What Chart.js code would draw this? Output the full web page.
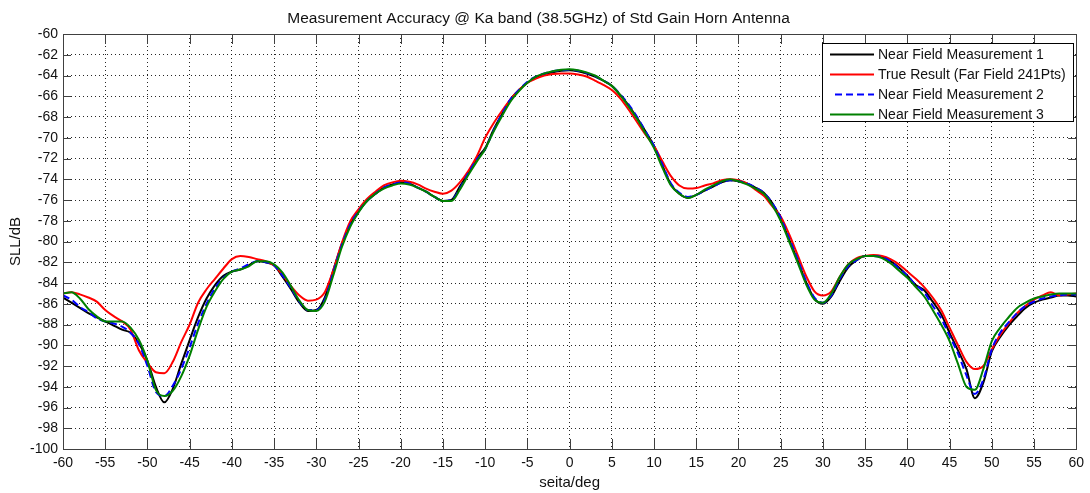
<!DOCTYPE html>
<html>
<head>
<meta charset="utf-8">
<script src="https://cdn.jsdelivr.net/npm/chart.js@4.4.1/dist/chart.umd.min.js"></script>
<style>
  html, body { margin: 0; padding: 0; background: #fff; }
  #wrap { width: 1090px; height: 493px; }
</style>
</head>
<body>
<div id="wrap"><canvas id="c" width="1090" height="493"></canvas></div>
<script>
const angles = [
  -60,-59,-58,-57,-56,-55,-54,-53,-52,-51,
  -50,-49,-48,-47,-46,-45,-44,-43,-42,-41,
  -40,-39,-38,-37,-36,-35,-34,-33,-32,-31,
  -30,-29,-28,-27,-26,-25,-24,-23,-22,-21,
  -20,-19,-18,-17,-16,-15,-14,-13,-12,-11,
  -10,-9,-8,-7,-6,-5,-4,-3,-2,-1,
  0,1,2,3,4,5,6,7,8,9,
  10,11,12,13,14,15,16,17,18,19,
  20,21,22,23,24,25,26,27,28,29,
  30,31,32,33,34,35,36,37,38,39,
  40,41,42,43,44,45,46,47,48,49,
  50,51,52,53,54,55,56,57,58,59,
  60
];

// Near Field Measurement 1 (black)
const nearField1 = [
  -85.4,-85.9,-86.4,-86.9,-87.3,-87.7,-88.1,-88.5,-88.8,-89.8,
  -91.5,-94.0,-95.5,-94.2,-91.8,-89.5,-87.3,-85.5,-84.2,-83.3,
  -82.9,-82.7,-82.3,-81.9,-82.0,-82.3,-83.4,-84.6,-85.9,-86.7,
  -86.6,-85.4,-82.8,-80.3,-78.4,-77.1,-76.1,-75.4,-74.8,-74.5,
  -74.3,-74.4,-74.8,-75.2,-75.7,-76.1,-76.0,-74.7,-73.4,-72.0,
  -71.0,-69.2,-67.7,-66.3,-65.4,-64.7,-64.2,-63.9,-63.7,-63.55,
  -63.5,-63.6,-63.8,-64.1,-64.5,-65.0,-65.9,-66.9,-68.1,-69.4,
  -70.8,-72.7,-74.5,-75.4,-75.8,-75.5,-75.1,-74.7,-74.3,-74.1,
  -74.2,-74.4,-74.8,-75.3,-76.3,-77.8,-79.8,-81.8,-83.9,-85.5,
  -86.0,-85.3,-83.8,-82.5,-81.8,-81.4,-81.4,-81.5,-81.9,-82.5,
  -83.3,-84.2,-84.7,-85.8,-87.0,-88.8,-90.5,-92.3,-95.1,-93.6,
  -90.6,-89.2,-88.1,-87.2,-86.4,-85.9,-85.6,-85.4,-85.2,-85.2,
  -85.3
];

// True Result (Far Field 241Pts) (red)
const farField = [
  -85.0,-84.9,-85.1,-85.4,-85.8,-86.6,-87.2,-87.7,-88.5,-90.5,
  -91.7,-92.6,-92.7,-91.6,-89.7,-88.0,-85.9,-84.6,-83.6,-82.6,
  -81.7,-81.4,-81.5,-81.7,-81.9,-82.3,-83.2,-84.3,-85.2,-85.7,
  -85.6,-84.9,-82.8,-80.2,-78.1,-76.9,-75.9,-75.2,-74.6,-74.3,
  -74.15,-74.25,-74.5,-74.9,-75.2,-75.4,-75.1,-74.3,-73.2,-71.8,
  -70.0,-68.6,-67.4,-66.3,-65.4,-64.7,-64.3,-64.0,-63.85,-63.8,
  -63.8,-63.9,-64.1,-64.5,-64.9,-65.4,-66.2,-67.3,-68.5,-69.7,
  -70.8,-72.3,-73.7,-74.6,-74.9,-74.85,-74.6,-74.4,-74.1,-74.0,
  -74.1,-74.4,-75.0,-75.6,-76.6,-77.6,-79.3,-81.3,-83.3,-84.8,
  -85.2,-84.8,-83.4,-82.2,-81.6,-81.4,-81.3,-81.4,-81.7,-82.2,
  -82.9,-83.6,-84.4,-85.4,-86.6,-88.3,-90.0,-91.6,-92.3,-92.0,
  -90.4,-89.0,-87.9,-86.9,-86.2,-85.6,-85.2,-84.9,-85.2,-85.1,
  -85.0
];

// Near Field Measurement 2 (blue dashed)
const nearField2 = [
  -85.2,-85.6,-86.3,-86.8,-87.4,-87.7,-87.9,-88.2,-88.8,-89.9,
  -92.0,-94.5,-94.9,-93.9,-92.3,-90.2,-87.9,-86.0,-84.5,-83.5,
  -82.9,-82.6,-82.2,-81.9,-82.0,-82.3,-83.3,-84.5,-85.8,-86.6,
  -86.6,-85.6,-83.0,-80.4,-78.4,-77.1,-76.1,-75.4,-74.8,-74.5,
  -74.3,-74.4,-74.8,-75.2,-75.7,-76.1,-76.0,-74.9,-73.4,-72.1,
  -71.1,-69.3,-67.7,-66.3,-65.4,-64.6,-64.1,-63.8,-63.6,-63.5,
  -63.45,-63.55,-63.75,-64.05,-64.5,-65.0,-65.8,-66.8,-68.0,-69.4,
  -70.8,-72.6,-74.4,-75.3,-75.7,-75.5,-75.1,-74.7,-74.3,-74.1,
  -74.2,-74.4,-74.8,-75.3,-76.3,-77.7,-79.7,-81.7,-83.8,-85.4,
  -85.9,-85.2,-83.6,-82.4,-81.8,-81.4,-81.4,-81.5,-81.9,-82.6,
  -83.3,-84.2,-84.9,-86.2,-87.4,-89.1,-90.8,-92.9,-94.7,-93.3,
  -90.4,-88.8,-87.8,-86.9,-86.2,-85.8,-85.5,-85.3,-85.2,-85.1,
  -85.1
];

// Near Field Measurement 3 (green)
const nearField3 = [
  -85.0,-84.9,-85.5,-86.5,-87.2,-87.7,-87.7,-87.7,-88.3,-89.5,
  -91.5,-94.3,-94.9,-94.4,-93.0,-91.0,-88.5,-86.3,-84.8,-83.6,
  -82.9,-82.7,-82.4,-81.9,-81.9,-82.2,-83.0,-84.3,-85.7,-86.6,
  -86.7,-85.8,-83.3,-80.6,-78.6,-77.2,-76.1,-75.4,-74.9,-74.6,
  -74.4,-74.5,-74.8,-75.2,-75.7,-76.1,-76.1,-75.0,-73.6,-72.3,
  -71.1,-69.4,-67.9,-66.5,-65.5,-64.7,-64.1,-63.8,-63.6,-63.45,
  -63.4,-63.5,-63.7,-64.0,-64.5,-65.0,-65.9,-67.0,-68.2,-69.6,
  -71.0,-72.9,-74.6,-75.4,-75.8,-75.5,-75.0,-74.6,-74.2,-74.0,
  -74.2,-74.5,-74.9,-75.4,-76.5,-78.0,-80.0,-82.0,-84.1,-85.6,
  -85.9,-85.0,-83.4,-82.2,-81.7,-81.4,-81.4,-81.6,-82.1,-82.8,
  -83.5,-84.4,-85.3,-86.6,-88.0,-89.6,-91.8,-94.0,-94.3,-92.3,
  -89.6,-88.3,-87.3,-86.4,-85.9,-85.5,-85.3,-85.1,-85.0,-85.0,
  -85.0
];

const seriesNames = [
  "Near Field Measurement 1",
  "True Result (Far Field 241Pts)",
  "Near Field Measurement 2",
  "Near Field Measurement 3"
];

const FONT = "'Liberation Sans', Arial, sans-serif";
const pts = (ys) => angles.map((a, i) => ({ x: a, y: ys[i] }));

// matlab style box + inward ticks
const boxTicks = {
  id: "boxTicks",
  afterDatasetsDraw(chart) {
    const { ctx, chartArea: a, scales: { x, y } } = chart;
    ctx.save();
    ctx.strokeStyle = "#404040";
    ctx.lineWidth = 1;
    ctx.beginPath();
    x.ticks.forEach(t => {
      const px = Math.round(x.getPixelForValue(t.value)) + 0.5;
      ctx.moveTo(px, a.bottom); ctx.lineTo(px, a.bottom - 10);
      ctx.moveTo(px, a.top); ctx.lineTo(px, a.top + 10);
    });
    y.ticks.forEach(t => {
      const py = Math.round(y.getPixelForValue(t.value)) + 0.5;
      ctx.moveTo(a.left, py); ctx.lineTo(a.left + 8, py);
      ctx.moveTo(a.right, py); ctx.lineTo(a.right - 8, py);
    });
    ctx.stroke();
    ctx.strokeRect(Math.round(a.left) + 0.5, Math.round(a.top) + 0.5,
      Math.round(a.right - a.left), Math.round(a.bottom - a.top));
    ctx.restore();
  }
};

// legend box drawn in the top right corner of the plot
const boxLegend = {
  id: "boxLegend",
  afterDraw(chart) {
    const { ctx } = chart;
    const bx = 822, by = 43, bw = 251, bh = 78;
    ctx.save();
    ctx.fillStyle = "#fff";
    ctx.fillRect(bx, by, bw, bh);
    ctx.strokeStyle = "#000";
    ctx.lineWidth = 1;
    ctx.strokeRect(bx + 0.5, by + 0.5, bw, bh);
    ctx.font = "14px " + FONT;
    ctx.textBaseline = "middle";
    chart.data.datasets.forEach((ds, i) => {
      const ly = by + 11.5 + i * 20;
      ctx.strokeStyle = ds.borderColor;
      ctx.lineWidth = 2;
      ctx.setLineDash(ds.borderDash || []);
      ctx.beginPath();
      ctx.moveTo(ds.borderDash ? 835 : 830, ly);
      ctx.lineTo(874, ly);
      ctx.stroke();
      ctx.setLineDash([]);
      ctx.fillStyle = "#111";
      ctx.fillText(ds.label, 878, ly + 0.5);
    });
    ctx.restore();
  }
};

new Chart(document.getElementById("c"), {
  type: "line",
  data: {
    datasets: [
      { label: seriesNames[0], data: pts(nearField1), borderColor: "#000000", order: 3 },
      { label: seriesNames[1], data: pts(farField), borderColor: "#ff0000", order: 2 },
      { label: seriesNames[2], data: pts(nearField2), borderColor: "#0000ff", borderDash: [7, 4], order: 1 },
      { label: seriesNames[3], data: pts(nearField3), borderColor: "#008000", order: 0 }
    ]
  },
  options: {
    responsive: false,
    animation: false,
    devicePixelRatio: 1,
    layout: { padding: { top: 0, right: 13, left: 0, bottom: 0 } },
    elements: {
      point: { radius: 0 },
      line: { borderWidth: 2, cubicInterpolationMode: "monotone", fill: false }
    },
    plugins: {
      legend: { display: false },
      tooltip: { enabled: false },
      title: {
        display: true,
        text: "Measurement Accuracy @ Ka band (38.5GHz) of Std Gain Horn Antenna",
        color: "#111",
        font: { family: FONT, size: 15.5, weight: "normal" },
        padding: { top: 9, bottom: 6.4 }
      }
    },
    scales: {
      x: {
        type: "linear",
        min: -60, max: 60,
        afterFit(s) { s.height = 44; },
        ticks: { stepSize: 5, padding: 6, color: "#111", font: { family: FONT, size: 14 }, maxRotation: 0 },
        grid: { drawTicks: false, color: "rgba(0,0,0,0.85)", lineWidth: 1 },
        border: { display: false, dash: [1, 3] },
        title: { display: true, text: "seita/deg", color: "#111", font: { family: FONT, size: 15 }, padding: { top: 0, bottom: 1 } }
      },
      y: {
        min: -100, max: -60,
        afterFit(s) { s.width = 63; },
        ticks: { stepSize: 2, padding: 5, color: "#111", font: { family: FONT, size: 14 } },
        grid: { drawTicks: false, color: "rgba(0,0,0,0.85)", lineWidth: 1 },
        border: { display: false, dash: [1, 3] },
        title: { display: true, text: "SLL/dB", color: "#111", font: { family: FONT, size: 15 }, padding: { top: 7, bottom: 0 } }
      }
    }
  },
  plugins: [boxTicks, boxLegend]
});
</script>
</body>
</html>
